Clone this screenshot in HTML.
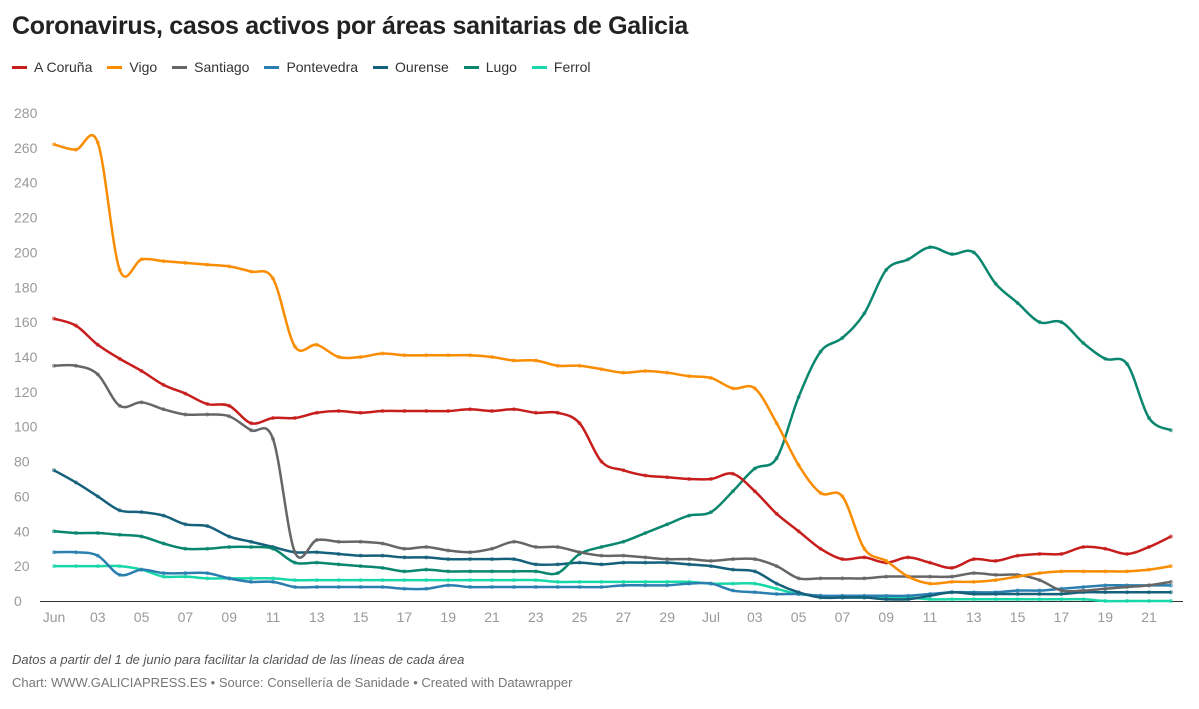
<!DOCTYPE html>
<html><head><meta charset="utf-8"><style>
body{margin:0;background:#fff;font-family:"Liberation Sans",sans-serif;width:1199px;height:709px;overflow:hidden;position:relative}
#title{position:absolute;left:12px;top:12px;font-size:25px;font-weight:bold;color:#222;letter-spacing:-0.3px}
#legend{position:absolute;left:12px;top:59px;font-size:14px;color:#333;display:flex;gap:15px}
.li{display:flex;align-items:center}.li i{display:inline-block;width:15px;height:3px;margin-right:7px}
#note{position:absolute;left:12px;top:652px;font-size:13px;font-style:italic;color:#555}
#credit{position:absolute;left:12px;top:675px;font-size:13px;color:#777}
svg{position:absolute;left:0;top:0}
</style></head><body>
<div id="title">Coronavirus, casos activos por áreas sanitarias de Galicia</div>
<div id="legend">
<span class="li"><i style="background:#c71e1d"></i>A Coruña</span>
<span class="li"><i style="background:#fa8c00"></i>Vigo</span>
<span class="li"><i style="background:#666"></i>Santiago</span>
<span class="li"><i style="background:#2a7fb0"></i>Pontevedra</span>
<span class="li"><i style="background:#15607a"></i>Ourense</span>
<span class="li"><i style="background:#09866e"></i>Lugo</span>
<span class="li"><i style="background:#18d7a8"></i>Ferrol</span>
</div>
<svg id="chart" width="1199" height="709"></svg>
<div id="note">Datos a partir del 1 de junio para facilitar la claridad de las líneas de cada área</div>
<div id="credit">Chart: WWW.GALICIAPRESS.ES • Source: Consellería de Sanidade • Created with Datawrapper</div>
<script>
const yTicks=[0,20,40,60,80,100,120,140,160,180,200,220,240,260,280];
const xTickLabels=["Jun","03","05","07","09","11","13","15","17","19","21","23","25","27","29","Jul","03","05","07","09","11","13","15","17","19","21"];
const xTickDays=[0,2,4,6,8,10,12,14,16,18,20,22,24,26,28,30,32,34,36,38,40,42,44,46,48,50];
const coruna=[162,158,147,139,132,124,119,113,112,102,105,105,108,109,108,109,109,109,109,110,109,110,108,108,102,80,75,72,71,70,70,73,63,50,40,30,24,25,22,25,22,19,24,23,26,27,27,31,30,27,31,37];
const vigo=[262,259,263,190,196,195,194,193,192,189,185,146,147,140,140,142,141,141,141,141,140,138,138,135,135,133,131,132,131,129,128,122,122,102,78,62,60,30,23,14,10,11,11,12,14,16,17,17,17,17,18,20];
const santiago=[135,135,130,112,114,110,107,107,106,98,93,28,35,34,34,33,30,31,29,28,30,34,31,31,28,26,26,25,24,24,23,24,24,20,13,13,13,13,14,14,14,14,16,15,15,12,6,6,7,8,9,11];
const pontevedra=[28,28,26,15,18,16,16,16,13,11,11,8,8,8,8,8,7,7,9,8,8,8,8,8,8,8,9,9,9,10,10,6,5,4,4,3,3,3,3,3,4,5,5,5,6,6,7,8,9,9,9,9];
const ourense=[75,68,60,52,51,49,44,43,37,34,31,28,28,27,26,26,25,25,24,24,24,24,21,21,22,21,22,22,22,21,20,18,17,10,5,2,2,2,1,1,3,5,4,4,4,4,4,5,5,5,5,5];
const lugo=[40,39,39,38,37,33,30,30,31,31,30,22,22,21,20,19,17,18,17,17,17,17,17,16,27,31,34,39,44,49,51,63,76,82,117,143,151,165,190,196,203,199,200,182,171,160,160,148,139,136,105,98];
const ferrol=[20,20,20,20,18,14,14,13,13,13,13,12,12,12,12,12,12,12,12,12,12,12,12,11,11,11,11,11,11,11,10,10,10,7,4,3,2,2,2,2,1,1,1,1,1,1,1,1,0,0,0,0];
const seriesList=[["ferrol",ferrol,"#18d7a8"],["pontevedra",pontevedra,"#2a7fb0"],["ourense",ourense,"#15607a"],["lugo",lugo,"#09866e"],["santiago",santiago,"#666666"],["a-coruna",coruna,"#c71e1d"],["vigo",vigo,"#fa8c00"]];
const NS="http://www.w3.org/2000/svg",svg=document.getElementById('chart');
const x0=54,dx=21.9,y0=601,ky=488/280;
const X=d=>x0+d*dx, Y=v=>y0-v*ky;
function mk(t,a){const e=document.createElementNS(NS,t);for(const k in a)e.setAttribute(k,a[k]);svg.appendChild(e);return e;}
yTicks.forEach(t=>{
 const tx=mk('text',{x:14,y:Y(t)+5,'font-size':14,fill:'#999','font-family':'Liberation Sans'});tx.textContent=t;
 
 
});
xTickDays.forEach((d,i)=>{
 const tx=mk('text',{x:X(d),y:622,'font-size':14,fill:'#999','text-anchor':'middle','font-family':'Liberation Sans'});tx.textContent=xTickLabels[i];
 
 
});
const ax=mk('line',{x1:40,x2:1183,y1:y0+0.5,y2:y0+0.5,stroke:'#333','stroke-width':1});


function pathD(vals){
 const p=vals.map((v,i)=>[X(i),Y(v)]);let d='M'+p[0][0]+','+p[0][1];
 for(let i=0;i<p.length-1;i++){const a=p[Math.max(0,i-1)],b=p[i],c=p[i+1],e=p[Math.min(p.length-1,i+2)];
  d+=` C${b[0]+(c[0]-a[0])/6},${b[1]+(c[1]-a[1])/6} ${c[0]-(e[0]-b[0])/6},${c[1]-(e[1]-b[1])/6} ${c[0]},${c[1]}`;}
 return d;}
seriesList.forEach(([n,vals,col])=>{
 const g=mk('g',{});
 
 
 const pa=document.createElementNS(NS,'path');
 pa.setAttribute('d',pathD(vals));pa.setAttribute('fill','none');pa.setAttribute('stroke',col);pa.setAttribute('stroke-width','2.5');
 
 
 g.appendChild(pa);
 vals.forEach((v,i)=>{const c=document.createElementNS(NS,'circle');
  c.setAttribute('cx',X(i));c.setAttribute('cy',Y(v));c.setAttribute('r',2);c.setAttribute('fill',col);c.setAttribute('opacity','0.6');
  
  
  g.appendChild(c);});
});
</script>
</body></html>
